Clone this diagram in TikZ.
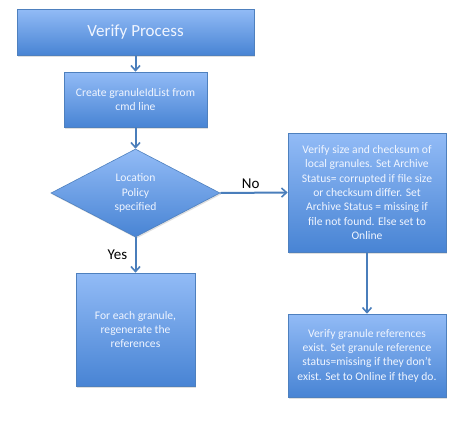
\documentclass[tikz,border=0pt]{standalone}
\usepackage{fontspec}
\setmainfont{Carlito}
\usetikzlibrary{shapes.geometric,arrows.meta,shadows}
\definecolor{boxtop}{RGB}{146,187,246}
\definecolor{boxbot}{RGB}{72,132,212}
\definecolor{boxedge}{RGB}{78,128,190}
\definecolor{arrowc}{RGB}{74,126,187}
\definecolor{txt}{RGB}{240,245,255}
\begin{document}
\begin{tikzpicture}[x=1pt,y=-1pt,
  procbox/.style={rectangle,draw=boxedge,line width=0.6pt,top color=boxtop,bottom color=boxbot,
    text=txt,align=center,inner sep=0pt,font=\fontsize{11.6}{14.3}\selectfont,
    drop shadow={shadow xshift=1pt,shadow yshift=-1.5pt,opacity=0.25}},
  decide/.style={diamond,draw=boxedge,line width=0.6pt,top color=boxtop,bottom color=boxbot,
    text=txt,align=center,inner sep=0pt,font=\fontsize{11.6}{14.3}\selectfont,
    drop shadow={shadow xshift=1pt,shadow yshift=-1.5pt,opacity=0.25}},
  flow/.style={draw=arrowc,line width=2pt,-{Straight Barb[length=5pt,width=9pt,line width=1.6pt]}},
  lbl/.style={font=\fontsize{15}{18}\selectfont,text=black}]
\useasboundingbox (0,0) rectangle (467,421);
\node[procbox,minimum width=237pt,minimum height=46pt,font=\fontsize{17}{20}\selectfont] (vp) at (135.5,32) {Verify Process};
\node[procbox,minimum width=143pt,minimum height=55pt] (cr) at (135.5,99.5) {Create granuleIdList from\\cmd line};
\node[decide,minimum width=169pt,minimum height=88pt] (dec) at (135.5,193) {Location\\Policy\\specified};
\node[procbox,minimum width=158pt,minimum height=119pt] (vs) at (367,192.5) {Verify size and checksum of\\local granules. Set Archive\\Status= corrupted if file size\\or checksum differ. Set\\Archive Status = missing if\\file not found. Else set to\\Online};
\node[procbox,minimum width=119pt,minimum height=113pt] (fe) at (135.5,329.5) {For each granule,\\regenerate the\\references};
\node[procbox,minimum width=158pt,minimum height=83pt] (vg) at (367,355.5) {Verify granule references\\exist. Set granule reference\\status=missing if they don’t\\exist. Set to Online if they do.};
\draw[flow] (vp) -- (cr);
\draw[flow] (cr) -- (dec);
\draw[flow] (dec.east) -- node[lbl,above=0pt,pos=0.45] (no) {No} (vs.west);
\draw[flow] (dec.south) -- node[lbl,left=4pt,pos=0.5] (yes) {Yes} (fe.north);
\draw[flow] (vs) -- (vg);
\end{tikzpicture}
\end{document}
